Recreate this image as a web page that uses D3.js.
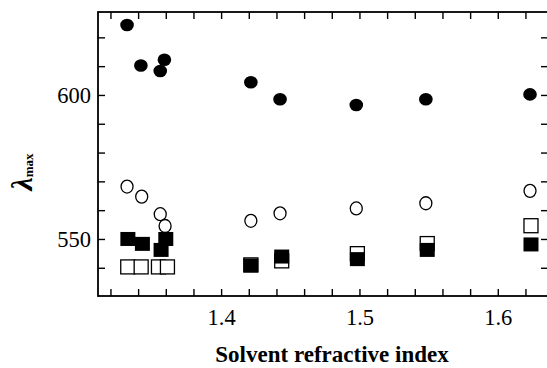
<!DOCTYPE html>
<html>
<head>
<meta charset="utf-8">
<script src="https://cdn.jsdelivr.net/npm/d3@7"></script>
<style>
  html, body { margin: 0; padding: 0; background: #fff; }
  svg { display: block; }
</style>
</head>
<body>
<svg id="chart" width="547" height="368"></svg>
<script>
// Solvent refractive index for each measured solvent (shared by all series)
const nFilledCircle = [1.332, 1.342, 1.356, 1.359, 1.4215, 1.4426, 1.4977, 1.548, 1.6233];
const lamFilledCircle = [624.3, 610.2, 608.3, 612.2, 604.4, 598.5, 596.5, 598.5, 600.2];

const nOpenCircle = [1.332, 1.3426, 1.356, 1.3595, 1.4215, 1.4426, 1.4977, 1.548, 1.6233];
const lamOpenCircle = [568.2, 564.7, 558.6, 554.5, 556.3, 558.9, 560.6, 562.4, 566.7];

const nOpenSquare = [1.3325, 1.3422, 1.3547, 1.3612, 1.4215, 1.4438, 1.4985, 1.549, 1.624];
const lamOpenSquare = [540.3, 540.3, 540.3, 540.3, 541.0, 542.4, 544.9, 548.4, 554.6];

const nFilledSquare = [1.3326, 1.3431, 1.3566, 1.36, 1.4215, 1.4438, 1.4985, 1.549, 1.624];
const lamFilledSquare = [550.0, 548.3, 546.2, 550.0, 540.8, 543.9, 543.0, 546.2, 548.1];

const xTicks = [1.32, 1.34, 1.36, 1.38, 1.4, 1.42, 1.44, 1.46, 1.48, 1.5, 1.52, 1.54, 1.56, 1.58, 1.6, 1.62];
const xTickLabels = [1.4, 1.5, 1.6];
const yTicks = [540, 550, 560, 570, 580, 590, 600, 610, 620];
const yTickLabels = [550, 600];

const svg = d3.select("#chart");
const plotL = 98, plotT = 12, plotR = 548, plotB = 296;

const x = d3.scaleLinear().domain([1.311, 1.6363]).range([plotL, plotR]);
const y = d3.scaleLinear().domain([530.2, 628.8]).range([plotB, plotT]);

const font = "'Liberation Serif', 'Times New Roman', serif";
const tickLen = 7;

function fmtX(d) { return xTickLabels.some(v => Math.abs(v - d) < 1e-9) ? d3.format(".1f")(d) : ""; }
function fmtY(d) { return yTickLabels.includes(d) ? String(d) : ""; }

function styleAxis(g) {
  g.select(".domain").remove();
  g.selectAll(".tick line").attr("stroke", "#000").attr("stroke-width", 1.4);
  g.selectAll(".tick text").attr("font-family", font).attr("font-size", 22.5).attr("fill", "#000");
}

svg.append("g").attr("transform", `translate(0,${plotB})`)
  .call(d3.axisBottom(x).tickValues(xTicks).tickFormat(fmtX).tickSizeInner(-tickLen).tickSizeOuter(0).tickPadding(13))
  .call(styleAxis);
svg.append("g").attr("transform", `translate(0,${plotT})`)
  .call(d3.axisTop(x).tickValues(xTicks).tickFormat("").tickSizeInner(-tickLen).tickSizeOuter(0))
  .call(styleAxis);
svg.append("g").attr("transform", `translate(${plotL},0)`)
  .call(d3.axisLeft(y).tickValues(yTicks).tickFormat(fmtY).tickSizeInner(-tickLen).tickSizeOuter(0).tickPadding(7))
  .call(styleAxis);
svg.append("g").attr("transform", `translate(${plotR},0)`)
  .call(d3.axisRight(y).tickValues(yTicks).tickFormat("").tickSizeInner(-tickLen).tickSizeOuter(0))
  .call(styleAxis);

// plot frame
svg.append("rect")
  .attr("x", plotL).attr("y", plotT)
  .attr("width", plotR - plotL).attr("height", plotB - plotT)
  .attr("fill", "none").attr("stroke", "#000").attr("stroke-width", 1.8);

const pts = (xs, ys) => xs.map((n, i) => ({ n, l: ys[i] }));
const sq = 14;

// open circles
svg.append("g").selectAll("ellipse").data(pts(nOpenCircle, lamOpenCircle)).join("ellipse")
  .attr("cx", d => x(d.n)).attr("cy", d => y(d.l))
  .attr("rx", 6).attr("ry", 6.5)
  .attr("fill", "#fff").attr("stroke", "#000").attr("stroke-width", 1.3);

// open squares
svg.append("g").selectAll("rect").data(pts(nOpenSquare, lamOpenSquare)).join("rect")
  .attr("x", d => x(d.n) - sq / 2).attr("y", d => y(d.l) - sq / 2)
  .attr("width", sq).attr("height", sq)
  .attr("fill", "#fff").attr("stroke", "#000").attr("stroke-width", 1.3);

// filled squares
svg.append("g").selectAll("rect").data(pts(nFilledSquare, lamFilledSquare)).join("rect")
  .attr("x", d => x(d.n) - 7.5).attr("y", d => y(d.l) - 7)
  .attr("width", 15).attr("height", 14)
  .attr("fill", "#000");

// filled circles
svg.append("g").selectAll("ellipse").data(pts(nFilledCircle, lamFilledCircle)).join("ellipse")
  .attr("cx", d => x(d.n)).attr("cy", d => y(d.l))
  .attr("rx", 6.8).attr("ry", 6.3)
  .attr("fill", "#000");

// axis titles
svg.append("text")
  .attr("x", 332).attr("y", 362)
  .attr("text-anchor", "middle")
  .attr("font-family", font).attr("font-size", 23).attr("font-weight", "bold")
  .text("Solvent refractive index");

const yl = svg.append("text")
  .attr("transform", "translate(32,172) rotate(-90)")
  .attr("text-anchor", "middle")
  .attr("font-family", font).attr("font-size", 30);
yl.append("tspan").attr("font-style", "italic").attr("font-weight", "bold").text("λ");
yl.append("tspan").attr("font-size", 13).attr("font-weight", "bold").attr("dy", 1).text("max");
</script>
</body>
</html>
